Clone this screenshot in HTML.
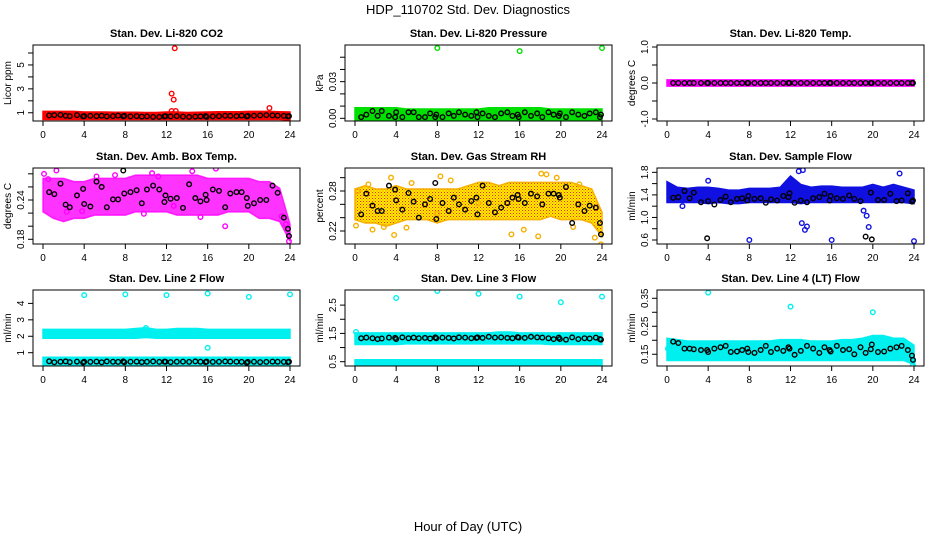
<!DOCTYPE html>
<html><head><meta charset="utf-8"><style>
html,body{margin:0;padding:0;background:#fff;}
svg{display:block;font-family:"Liberation Sans",sans-serif;}
</style></head><body>
<svg id="chart" width="936" height="540" viewBox="0 0 936 540">
<defs>
<pattern id="rhPat" width="3" height="3" patternUnits="userSpaceOnUse">
<rect width="3" height="3" fill="#ffee00"/>
<rect width="1" height="1" fill="#ff2000"/>
<rect x="1.5" y="1.5" width="1" height="1" fill="#ff6000"/>
</pattern>
</defs>
<text x="468" y="14" text-anchor="middle" font-size="13">HDP_110702  Std. Dev. Diagnostics</text>
<text x="468" y="531" text-anchor="middle" font-size="13">Hour of Day (UTC)</text>
</svg>
<script>
// ---- data ----
const bandHours = [0,1,2,3,4,5,6,7,8,9,10,11,12,13,14,15,16,17,18,19,20,21,22,23,24];
const xTicks = [0,4,8,12,16,20,24];
const blackHours = [0.6,1.1,1.7,2.2,2.6,3.3,3.9,4.0,4.6,5.2,5.7,6.2,
 6.8,7.3,7.8,7.9,8.5,9.1,9.6,10.1,10.7,11.3,11.8,11.9,
 12.4,13.0,13.6,14.2,14.8,15.3,15.8,15.9,16.5,17.1,17.7,18.2,
 18.8,19.3,19.8,19.9,20.5,21.1,21.7,22.3,22.8,23.4,23.8,23.9];

// CO2
const co2Lo = [0.6,0.6,0.6,0.6,0.6,0.6,0.6,0.6,0.6,0.6,0.6,0.6,0.6,0.6,0.6,0.6,0.6,0.6,0.6,0.6,0.6,0.6,0.6,0.6,0.55];
const co2Hi = [0.95,0.95,0.95,0.95,0.9,0.9,0.9,0.88,0.88,0.88,0.85,0.85,0.9,0.9,0.85,0.88,0.9,0.92,0.92,0.92,0.95,0.95,0.95,0.92,0.9];
const co2OutX = [12.8,12.5,12.7,12.5,12.9,22.0,12.6,13.0];
const co2OutY = [6.4,2.6,2.1,1.15,1.15,1.4,0.9,0.85];
const co2Black = [0.78,0.8,0.82,0.75,0.72,0.8,0.7,0.72,0.74,0.72,0.75,0.7,
 0.72,0.76,0.7,0.74,0.7,0.72,0.68,0.7,0.66,0.65,0.7,0.72,
 0.7,0.72,0.68,0.65,0.68,0.7,0.72,0.66,0.7,0.72,0.75,0.74,
 0.72,0.76,0.7,0.74,0.75,0.78,0.8,0.78,0.76,0.74,0.7,0.72];
// Pressure
const presLo = [0,0,0,0,0,0,0,0,0,0,0,0,0,0,0,0,0,0,0,0,0,0,0,0,0];
const presHi = [0.007,0.007,0.007,0.007,0.007,0.006,0.006,0.006,0.006,0.006,0.006,0.006,0.006,0.007,0.007,0.007,0.007,0.007,0.007,0.006,0.006,0.006,0.006,0.006,0.006];
const presOutX = [8,16,24];
const presOutY = [0.0575,0.055,0.0575];
const presBlack = [0.001,0.003,0.006,0.002,0.006,0.002,0.001,0.005,0.001,0.005,0.005,0.001,
 0.001,0.004,0.001,0.003,0.001,0.004,0.002,0.005,0.003,0.002,0.005,0.001,
 0.004,0.002,0.001,0.004,0.005,0.002,0.003,0.001,0.005,0.002,0.004,0.001,
 0.005,0.003,0.002,0.004,0.001,0.005,0.003,0.002,0.004,0.005,0.001,0.003];
// Temp
const tempLo = [-0.03,-0.03,-0.03,-0.03,-0.03,-0.03,-0.03,-0.03,-0.03,-0.03,-0.03,-0.03,-0.03,-0.03,-0.03,-0.03,-0.03,-0.03,-0.03,-0.03,-0.03,-0.03,-0.03,-0.03,-0.03];
const tempHi = [0.03,0.03,0.03,0.03,0.03,0.03,0.03,0.03,0.03,0.03,0.03,0.03,0.03,0.03,0.03,0.03,0.03,0.03,0.03,0.03,0.03,0.03,0.03,0.03,0.03];
const tempOutX = [];
const tempOutY = [];
const tempBlack = [0,0,0,0,0,0,0,0,0,0,0,0,0,0,0,0,0,0,0,0,0,0,0,0,0,0,0,0,0,0,0,0,0,0,0,0,0,0,0,0,0,0,0,0,0,0,0,0];
// Ambient box temp
const ambLo = [0.225,0.215,0.21,0.215,0.215,0.22,0.22,0.22,0.22,0.225,0.225,0.225,0.225,0.22,0.22,0.22,0.22,0.22,0.225,0.225,0.225,0.215,0.215,0.21,0.18];
const ambHi = [0.27,0.27,0.27,0.265,0.265,0.27,0.27,0.27,0.27,0.275,0.275,0.275,0.275,0.275,0.275,0.275,0.27,0.27,0.27,0.27,0.27,0.265,0.265,0.255,0.2];
const ambOutX = [0.1,1.3,2.3,3.8,5.2,9.8,12.7,14.5,15.3,16.8,17.7,19.3,23.2,23.6,23.9,0.5,7.0,10.6,11.2];
const ambOutY = [0.28,0.285,0.222,0.223,0.276,0.219,0.231,0.284,0.214,0.288,0.2,0.293,0.215,0.203,0.177,0.272,0.278,0.281,0.276];
const ambBlack = [0.252,0.249,0.265,0.233,0.229,0.247,0.257,0.234,0.23,0.268,0.26,0.229,
 0.241,0.241,0.285,0.25,0.252,0.255,0.235,0.256,0.262,0.256,0.237,0.247,
 0.242,0.243,0.228,0.264,0.243,0.238,0.248,0.24,0.256,0.254,0.229,0.25,
 0.252,0.252,0.243,0.231,0.235,0.24,0.24,0.262,0.251,0.213,0.196,0.185];
// Gas stream RH
const rhLo = [0.24,0.235,0.235,0.23,0.235,0.24,0.24,0.24,0.235,0.24,0.24,0.24,0.24,0.24,0.24,0.24,0.24,0.24,0.24,0.245,0.24,0.24,0.24,0.235,0.215];
const rhHi = [0.28,0.285,0.28,0.28,0.285,0.28,0.28,0.28,0.28,0.28,0.28,0.285,0.29,0.29,0.285,0.29,0.29,0.29,0.29,0.29,0.29,0.29,0.285,0.28,0.245];
const rhOutX = [0.1,1.3,3.5,3.8,5.0,5.5,0.3,2.8,8.3,9.3,12.0,15.2,16.4,17.8,18.6,18.1,19.6,21.2,21.8,23.3,23.9,8.0,1.7];
const rhOutY = [0.228,0.29,0.3,0.214,0.225,0.292,0.28,0.226,0.302,0.296,0.262,0.215,0.222,0.212,0.305,0.306,0.3,0.226,0.29,0.21,0.2,0.246,0.222];
const rhBlack = [0.245,0.276,0.258,0.25,0.25,0.288,0.282,0.266,0.252,0.277,0.264,0.24,
 0.26,0.268,0.292,0.238,0.262,0.25,0.27,0.26,0.252,0.265,0.27,0.245,
 0.288,0.262,0.248,0.255,0.262,0.27,0.274,0.268,0.262,0.276,0.272,0.26,
 0.276,0.276,0.274,0.27,0.286,0.232,0.26,0.25,0.258,0.255,0.232,0.215];
// Sample flow
const flowLo = [1.3,1.3,1.3,1.3,1.28,1.3,1.28,1.28,1.3,1.3,1.3,1.3,1.3,1.28,1.3,1.3,1.3,1.3,1.3,1.3,1.3,1.3,1.3,1.3,1.28];
const flowHi = [1.6,1.5,1.48,1.5,1.5,1.48,1.45,1.45,1.48,1.48,1.48,1.5,1.7,1.55,1.5,1.52,1.52,1.5,1.5,1.5,1.55,1.5,1.55,1.5,1.45];
const flowOutX = [4.0,8.0,12.8,13.1,13.2,13.4,13.6,16,19.1,19.4,19.6,22.6,24,5.1,1.5];
const flowOutY = [1.65,0.6,1.82,0.9,1.84,0.78,0.84,0.6,1.12,1.03,0.83,1.78,0.58,1.3,1.2];
const flowBlack = [1.35,1.36,1.47,1.34,1.44,1.27,0.63,1.29,1.23,1.31,1.37,1.27,
 1.33,1.34,1.3,1.38,1.33,1.34,1.26,1.32,1.3,1.38,1.36,1.43,
 1.26,1.3,1.27,1.34,1.36,1.42,1.3,1.38,1.34,1.33,1.39,1.33,
 1.29,0.66,1.44,0.61,1.31,1.31,1.42,1.29,1.3,1.43,1.28,1.3];
// Line 2 flow
const l2UpLo = [2.0,2.0,2.0,2.0,2.0,2.0,2.0,2.0,2.0,2.0,2.05,2.0,2.0,2.0,2.0,2.0,2.0,2.0,2.0,2.0,2.0,2.0,2.0,2.0,2.0];
const l2UpHi = [2.3,2.3,2.3,2.3,2.3,2.3,2.3,2.3,2.3,2.35,2.4,2.3,2.3,2.35,2.35,2.35,2.3,2.3,2.3,2.3,2.3,2.3,2.3,2.3,2.3];
const l2LoLo = [0.35,0.35,0.35,0.35,0.35,0.35,0.35,0.35,0.35,0.35,0.35,0.35,0.35,0.35,0.35,0.35,0.35,0.35,0.35,0.35,0.35,0.35,0.35,0.35,0.35];
const l2LoHi = [0.6,0.6,0.6,0.6,0.6,0.6,0.6,0.6,0.6,0.6,0.6,0.6,0.6,0.6,0.6,0.6,0.6,0.6,0.6,0.6,0.6,0.6,0.6,0.6,0.6];
const l2OutX = [4,8,12,16,20,24,16.0,10.0];
const l2OutY = [4.5,4.55,4.5,4.6,4.4,4.55,1.3,2.5];
const l2Black = [0.48,0.42,0.45,0.47,0.43,0.46,0.4,0.45,0.44,0.46,0.42,0.47,
 0.45,0.44,0.47,0.42,0.45,0.46,0.43,0.45,0.47,0.44,0.46,0.45,
 0.43,0.45,0.46,0.44,0.47,0.45,0.43,0.46,0.44,0.45,0.47,0.46,
 0.45,0.44,0.38,0.44,0.45,0.43,0.44,0.46,0.45,0.44,0.43,0.45];
// Line 3 flow
const l3UpLo = [1.18,1.18,1.18,1.18,1.18,1.2,1.2,1.2,1.2,1.2,1.2,1.2,1.2,1.2,1.2,1.2,1.2,1.2,1.2,1.18,1.18,1.18,1.18,1.18,1.18];
const l3UpHi = [1.45,1.45,1.45,1.45,1.45,1.45,1.45,1.45,1.45,1.45,1.45,1.45,1.45,1.45,1.48,1.48,1.45,1.45,1.45,1.45,1.45,1.45,1.45,1.45,1.45];
const l3LoLo = [0.36,0.36,0.36,0.36,0.36,0.36,0.36,0.36,0.36,0.36,0.36,0.36,0.36,0.36,0.36,0.36,0.36,0.36,0.36,0.36,0.36,0.36,0.36,0.36,0.36];
const l3LoHi = [0.5,0.5,0.5,0.5,0.5,0.5,0.5,0.5,0.5,0.5,0.5,0.5,0.5,0.5,0.5,0.5,0.5,0.5,0.5,0.5,0.5,0.5,0.5,0.5,0.5];
const l3OutX = [4,8,12,16,20,24,0.1];
const l3OutY = [2.75,3.0,2.9,2.8,2.6,2.8,1.55];
const l3Black = [1.33,1.35,1.33,1.3,1.32,1.35,1.34,1.3,1.36,1.33,1.35,1.33,
 1.34,1.32,1.36,1.33,1.35,1.34,1.32,1.36,1.35,1.33,1.34,1.36,
 1.34,1.38,1.35,1.36,1.34,1.33,1.37,1.35,1.34,1.38,1.36,1.35,
 1.33,1.3,1.35,1.3,1.28,1.36,1.3,1.33,1.32,1.35,1.3,1.28];
// Line 4 (LT) flow
const l4Lo = [0.135,0.135,0.135,0.135,0.135,0.135,0.135,0.135,0.135,0.135,0.135,0.135,0.135,0.135,0.135,0.135,0.135,0.135,0.135,0.135,0.135,0.135,0.135,0.135,0.12];
const l4Hi = [0.2,0.195,0.19,0.19,0.19,0.19,0.19,0.19,0.19,0.19,0.19,0.195,0.195,0.195,0.19,0.19,0.19,0.195,0.195,0.2,0.21,0.21,0.2,0.2,0.175];
const l4OutX = [4,12,20,0.1,23.9,23.9];
const l4OutY = [0.37,0.32,0.3,0.17,0.125,0.11];
const l4Black = [0.195,0.19,0.17,0.17,0.168,0.165,0.165,0.158,0.17,0.175,0.18,0.158,
 0.16,0.165,0.17,0.158,0.155,0.165,0.18,0.158,0.17,0.162,0.175,0.17,
 0.148,0.162,0.18,0.17,0.155,0.175,0.165,0.16,0.18,0.165,0.168,0.15,
 0.175,0.155,0.168,0.185,0.158,0.16,0.17,0.175,0.18,0.165,0.145,0.13];

// tick values / labels per panel
const co2Ticks = [1,2,3,4,5,6];           const co2Labels = ["1","","3","","5",""];
const presTicks = [0,0.01,0.02,0.03,0.04,0.05]; const presLabels = ["0.00","","","0.03","",""];
const tempTicks = [-1,-0.5,0,0.5,1];      const tempLabels = ["-1.0","","0.0","","1.0"];
const ambTicks = [0.18,0.2,0.22,0.24,0.26,0.28]; const ambLabels = ["0.18","","","0.24","",""];
const rhTicks = [0.22,0.24,0.26,0.28,0.3];  const rhLabels = ["0.22","","","0.28",""];
const flowTicks = [0.6,0.8,1.0,1.2,1.4,1.6,1.8]; const flowLabels = ["0.6","","1.0","","1.4","","1.8"];
const l2Ticks = [1,2,3,4];                const l2Labels = ["1","2","3","4"];
const l3Ticks = [0.5,1,1.5,2,2.5];        const l3Labels = ["0.5","","1.5","","2.5"];
const l4Ticks = [0.15,0.2,0.25,0.3,0.35]; const l4Labels = ["0.15","","0.25","","0.35"];

// ---- drawing ----
const NS = "http://www.w3.org/2000/svg";
const svg = document.getElementById("chart");
const colLeft = [33, 345, 657], rowTop = [45, 168, 290];
const PW = 267, PH = 76;
function mk(tag, attrs, parent) {
  const e = document.createElementNS(NS, tag);
  for (const k in attrs) e.setAttribute(k, attrs[k]);
  (parent || svg).appendChild(e);
  return e;
}
function panel(col, row, key, title, ylab, ymin, ymax, ticks, labels, bands, outX, outY, blackY, color, bandFill, bandOpacity) {
  const L = colLeft[col], T = rowTop[row];
  const g = mk("g", {});
  
  
  const xs = h => L + 10 + h * (PW - 20) / 24;
  const ys = v => T + PH - (v - ymin) / (ymax - ymin) * PH;
  const clip = mk("clipPath", {id: "c" + key}, g);
  mk("rect", {x: L, y: T, width: PW, height: PH}, clip);
  const plot = mk("g", {"clip-path": "url(#c" + key + ")"}, g);
  bands.forEach((b, bi) => {
    let d = "";
    bandHours.forEach((h, i) => { d += (i ? "L" : "M") + xs(h) + "," + (ys(b[1][i]) - 2); });
    for (let i = bandHours.length - 1; i >= 0; i--) d += "L" + xs(bandHours[i]) + "," + (ys(b[0][i]) + 2);
    const p = mk("path", {d: d + "Z", fill: bandFill, "fill-opacity": bandOpacity, stroke: color, "stroke-width": 1.5, "stroke-opacity": bandOpacity}, plot);
    
    
  });
  outX.forEach((h, i) => {
    const c = mk("circle", {cx: xs(h), cy: ys(outY[i]), r: 2.3, fill: "none", stroke: color, "stroke-width": 1.4}, plot);
    
    
  });
  blackHours.forEach((h, i) => {
    const c = mk("circle", {cx: xs(h), cy: ys(blackY[i]), r: 2.3, fill: "none", stroke: "#000", "stroke-width": 1.4}, plot);
    
    
  });
  const box = mk("rect", {x: L, y: T, width: PW, height: PH, fill: "none", stroke: "#000", "stroke-width": 1}, g);
  
  
  xTicks.forEach(t => {
    mk("line", {x1: xs(t), x2: xs(t), y1: T + PH, y2: T + PH + 5, stroke: "#000"}, g);
    const tx = mk("text", {x: xs(t), y: T + PH + 17, "text-anchor": "middle", "font-size": 10}, g);
    tx.textContent = t;
    
    
  });
  ticks.forEach((t, i) => {
    mk("line", {x1: L - 5, x2: L, y1: ys(t), y2: ys(t), stroke: "#000"}, g);
    if (labels[i]) {
      const tx = mk("text", {x: 0, y: 0, "text-anchor": "middle", "font-size": 10,
        transform: "translate(" + (L - 9) + "," + ys(t) + ") rotate(-90)"}, g);
      tx.textContent = labels[i];
      
      
    }
  });
  const tt = mk("text", {x: L + PW / 2, y: T - 8, "text-anchor": "middle", "font-size": 11, "font-weight": "bold"}, g);
  tt.textContent = title;
  
  
  const yl = mk("text", {x: 0, y: 0, "text-anchor": "middle", "font-size": 10,
    transform: "translate(" + (L - 22) + "," + (T + PH / 2) + ") rotate(-90)"}, g);
  yl.textContent = ylab;
  
  
}
panel(0,0,"co2","Stan. Dev. Li-820 CO2","Licor ppm",0.31,6.67,co2Ticks,co2Labels,[[co2Lo,co2Hi]],co2OutX,co2OutY,co2Black,"#ff0000","#ff0000",1);
panel(1,0,"pressure","Stan. Dev. Li-820 Pressure","kPa",-0.0022,0.06,presTicks,presLabels,[[presLo,presHi]],presOutX,presOutY,presBlack,"#00e000","#00e000",1);
panel(2,0,"temp","Stan. Dev. Li-820 Temp.","degrees C",-1.056,1.056,tempTicks,tempLabels,[[tempLo,tempHi]],tempOutX,tempOutY,tempBlack,"#ff00ff","#ff00ff",1);
panel(0,1,"ambient","Stan. Dev. Amb. Box Temp.","degrees C",0.1728,0.2889,ambTicks,ambLabels,[[ambLo,ambHi]],ambOutX,ambOutY,ambBlack,"#ff00ff","#ff00ff",0.8);
panel(1,1,"rh","Stan. Dev. Gas Stream RH","percent",0.2005,0.3145,rhTicks,rhLabels,[[rhLo,rhHi]],rhOutX,rhOutY,rhBlack,"#f5b000","url(#rhPat)",1);
panel(2,1,"sampleflow","Stan. Dev. Sample Flow","ml/min",0.529,1.877,flowTicks,flowLabels,[[flowLo,flowHi]],flowOutX,flowOutY,flowBlack,"#1010e0","#1010e0",1);
panel(0,2,"line2","Stan. Dev. Line 2 Flow","ml/min",0.191,4.815,l2Ticks,l2Labels,[[l2UpLo,l2UpHi],[l2LoLo,l2LoHi]],l2OutX,l2OutY,l2Black,"#00f0f0","#00f0f0",1);
panel(1,2,"line3","Stan. Dev. Line 3 Flow","ml/min",0.348,3.034,l3Ticks,l3Labels,[[l3UpLo,l3UpHi],[l3LoLo,l3LoHi]],l3OutX,l3OutY,l3Black,"#00f0f0","#00f0f0",1);
panel(2,2,"line4","Stan. Dev. Line 4 (LT) Flow","ml/min",0.108,0.3796,l4Ticks,l4Labels,[[l4Lo,l4Hi]],l4OutX,l4OutY,l4Black,"#00f0f0","#00f0f0",1);
</script>
</body></html>
